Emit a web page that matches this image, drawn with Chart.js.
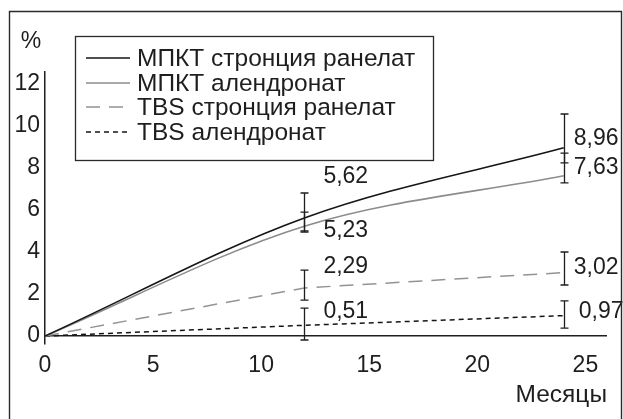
<!DOCTYPE html>
<html>
<head>
<meta charset="utf-8">
<script src="https://cdn.jsdelivr.net/npm/chart.js@4/dist/chart.umd.min.js"></script>
<style>
  html, body { margin: 0; padding: 0; background: #fff; }
  #wrap { width: 623px; height: 419px; position: relative; }
</style>
</head>
<body>
<div id="wrap"><canvas id="c" width="623" height="419"></canvas></div>
<script>
// Months of follow-up
const months = [0, 12, 24];

const seriesNames = [
  'МПКТ стронция ранелат',
  'МПКТ алендронат',
  'TBS стронция ранелат',
  'TBS алендронат'
];

// Mean change from baseline, %
const bmdStrontium   = [0, 5.62, 8.96];
const bmdAlendronate = [0, 5.23, 7.63];
const tbsStrontium   = [0, 2.29, 3.02];
const tbsAlendronate = [0, 0.51, 0.97];

// Whisker ends, %
const bmdStrontiumLow    = [null, 5.00, 8.24];
const bmdStrontiumHigh   = [null, 6.81, 10.57];
const bmdAlendronateLow  = [null, 4.95, 7.29];
const bmdAlendronateHigh = [null, 5.90, 8.71];
const tbsStrontiumLow    = [null, 1.71, 2.43];
const tbsStrontiumHigh   = [null, 3.14, 4.00];
const tbsAlendronateLow  = [null, -0.19, 0.38];
const tbsAlendronateHigh = [null, 1.33, 1.67];

const xTicks = [0, 5, 10, 15, 20, 25];
const yTicks = [0, 2, 4, 6, 8, 10, 12];

const FONT = 'Liberation Sans, Arial, Helvetica, sans-serif';
const FONT_SIZE = 23;      // numbers
const TEXT_SIZE = 24.5;    // words
const INK = '#1e1e1e';

const seriesValues = [bmdStrontium, bmdAlendronate, tbsStrontium, tbsAlendronate];
const seriesLow  = [bmdStrontiumLow, bmdAlendronateLow, tbsStrontiumLow, tbsAlendronateLow];
const seriesHigh = [bmdStrontiumHigh, bmdAlendronateHigh, tbsStrontiumHigh, tbsAlendronateHigh];

const seriesStyle = [
  { color: '#151515', dash: [],      width: 1.6, smooth: true  },
  { color: '#8c8c8c', dash: [],      width: 1.6, smooth: true  },
  { color: '#939393', dash: [14, 9], width: 1.5, smooth: false },
  { color: '#151515', dash: [5, 4],  width: 1.5, smooth: false }
];

// Pixel nudges for the value labels (per series, per point)
const labelShift = [
  [null, { dx: 19, dy: -41 }, { dx: 10, dy: -9 }],
  [null, { dx: 19, dy: 4 },   { dx: 10, dy: -8 }],
  [null, { dx: 19, dy: -21 }, { dx: 10, dy: -5 }],
  [null, { dx: 19, dy: -14 }, { dx: 15, dy: -4 }]
];

const datasets = seriesNames.map((name, i) => ({
  label: name,
  data: months.map((m, j) => ({ x: m, y: seriesValues[i][j] })),
  borderColor: seriesStyle[i].color,
  borderWidth: seriesStyle[i].width,
  borderDash: seriesStyle[i].dash,
  cubicInterpolationMode: seriesStyle[i].smooth ? 'monotone' : 'default',
  tension: 0,
  pointRadius: 0,
  fill: false
}));

const fmt = v => v.toFixed(2).replace('.', ',');

const decorations = {
  id: 'decorations',
  afterDatasetsDraw(chart) {
    const ctx = chart.ctx;
    const xs = chart.scales.x, ys = chart.scales.y;
    ctx.save();

    // whiskers
    ctx.strokeStyle = INK;
    ctx.lineWidth = 1.3;
    ctx.setLineDash([]);
    seriesNames.forEach((_, i) => {
      months.forEach((m, j) => {
        const lo = seriesLow[i][j], hi = seriesHigh[i][j];
        if (lo === null || hi === null) return;
        const x = Math.round(xs.getPixelForValue(m)) + 0.5;
        const y1 = ys.getPixelForValue(lo), y2 = ys.getPixelForValue(hi);
        ctx.beginPath();
        ctx.moveTo(x, y1); ctx.lineTo(x, y2);
        ctx.moveTo(x - 4, y1); ctx.lineTo(x + 4, y1);
        ctx.moveTo(x - 4, y2); ctx.lineTo(x + 4, y2);
        ctx.stroke();
      });
    });

    // value labels
    ctx.fillStyle = INK;
    ctx.font = FONT_SIZE + 'px ' + FONT;
    ctx.textAlign = 'left';
    ctx.textBaseline = 'middle';
    seriesNames.forEach((_, i) => {
      months.forEach((m, j) => {
        const s = labelShift[i][j];
        if (!s) return;
        const v = seriesValues[i][j];
        ctx.fillText(fmt(v), xs.getPixelForValue(m) + s.dx, ys.getPixelForValue(v) + s.dy);
      });
    });

    // legend
    const lx = 75.5, ly = 36.5, lw = 358, lh = 124;
    ctx.strokeStyle = '#2a2a2a';
    ctx.lineWidth = 1.3;
    ctx.strokeRect(lx, ly, lw, lh);
    const rows = [58, 83, 107, 132];
    ctx.font = TEXT_SIZE + 'px ' + FONT;
    seriesNames.forEach((name, i) => {
      const y = rows[i];
      ctx.strokeStyle = seriesStyle[i].color;
      ctx.lineWidth = seriesStyle[i].width;
      ctx.setLineDash(seriesStyle[i].dash);
      ctx.beginPath();
      ctx.moveTo(86, y); ctx.lineTo(130, y);
      ctx.stroke();
      ctx.setLineDash([]);
      ctx.fillStyle = INK;
      ctx.fillText(name, 137, y + 1);
    });

    // unit mark above the value axis
    ctx.font = FONT_SIZE + 'px ' + FONT;
    ctx.textAlign = 'center';
    ctx.fillText('%', 31, 42);

    // outer frame
    ctx.strokeStyle = '#2a2a2a';
    ctx.lineWidth = 1.4;
    ctx.beginPath();
    ctx.moveTo(9.5, 420); ctx.lineTo(9.5, 11.5); ctx.lineTo(621.5, 11.5); ctx.lineTo(621.5, 420);
    ctx.stroke();

    ctx.restore();
  }
};

new Chart(document.getElementById('c'), {
  type: 'line',
  data: { datasets },
  plugins: [decorations],
  options: {
    responsive: false,
    animation: false,
    layout: { padding: { left: 0, right: 16, top: 72, bottom: 0 } },
    plugins: { legend: { display: false }, tooltip: { enabled: false } },
    scales: {
      x: {
        type: 'linear', min: 0, max: 26,
        afterBuildTicks: s => { s.ticks = xTicks.map(v => ({ value: v })); },
        afterFit: s => { s.height = 75; },
        grid: { display: false, drawTicks: false },
        border: { display: false },
        ticks: { padding: 8, color: INK, font: { family: FONT, size: FONT_SIZE }, maxRotation: 0, autoSkip: false },
        title: { display: true, text: 'Месяцы', align: 'end', color: INK,
                 font: { family: FONT, size: TEXT_SIZE }, padding: { top: 0, bottom: 9 } }
      },
      y: {
        type: 'linear', min: -0.38, max: 12.57,
        afterBuildTicks: s => { s.ticks = yTicks.map(v => ({ value: v })); },
        afterFit: s => { s.width = 45; },
        grid: {
          drawTicks: false,
          lineWidth: 1.5,
          color: c => (c.tick && c.tick.value === 0) ? INK : 'rgba(0,0,0,0)'
        },
        border: { display: true, color: INK, width: 1.5 },
        ticks: { padding: 5, color: INK, font: { family: FONT, size: FONT_SIZE } }
      }
    }
  }
});
</script>
</body>
</html>
